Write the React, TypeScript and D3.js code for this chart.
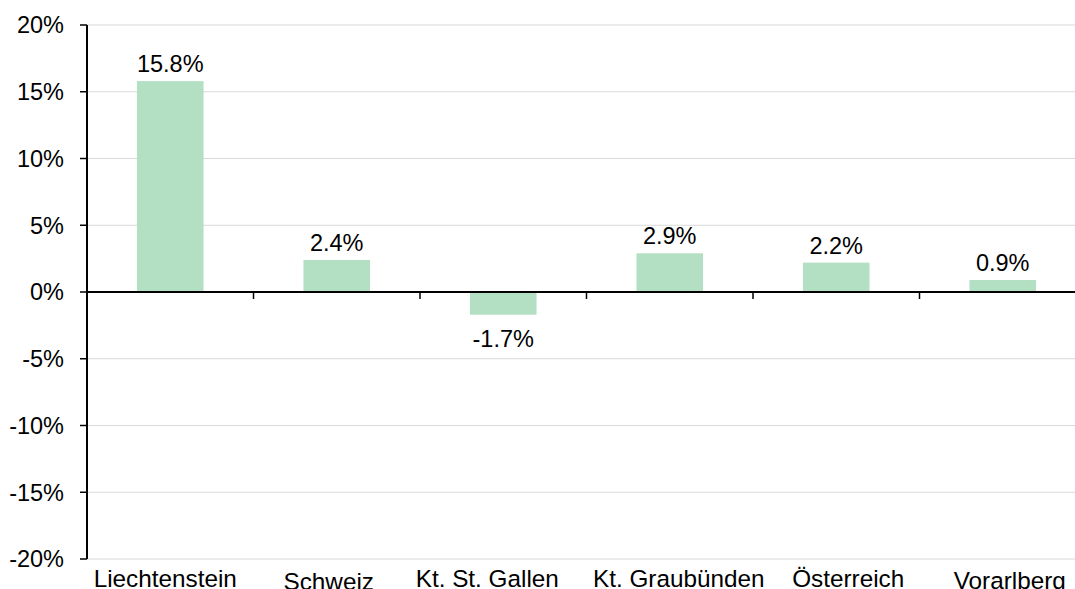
import React from "react";
import * as d3 from "d3";

const categories = ["Liechtenstein", "Schweiz", "Kt. St. Gallen", "Kt. Graubünden", "Österreich", "Vorarlberg"];
const values = [15.8, 2.4, -1.7, 2.9, 2.2, 0.9];
const yTicks = [-20, -15, -10, -5, 0, 5, 10, 15, 20];

// layout tweaks for category label placement (Excel-like offsets)
const labelDx = [-5, -8, -16, 9, 12, 7];
const labelDy = [0, 3, 0, 0, 0, 2];

const W = 1075;
const H = 589;
const FONT = "'Liberation Sans', Arial, Helvetica, sans-serif";

export default function App() {
  const x = d3.scaleBand<string>().domain(categories).range([87, 1086]).paddingInner(0.6).paddingOuter(0.3);
  const step = x.step();
  const y = d3.scaleLinear().domain([-20, 20]).range([559, 25]);
  const y0 = y(0);
  const fmt = (v: number) => `${v.toFixed(1)}%`;

  return (
    <svg width={W} height={H} style={{ position: "absolute", left: 0, top: 0 }} fontFamily={FONT}>
      <rect width={W} height={H} fill="#fff" />
      {yTicks.map((t) => (
        <line key={"g" + t} x1={87} x2={W} y1={y(t)} y2={y(t)} stroke="#d9d9d9" strokeWidth={1} />
      ))}
      {categories.map((c, i) => {
        const v = values[i];
        const top = y(Math.max(0, v));
        const bot = y(Math.min(0, v));
        return (
          <rect key={c} x={x(c)} y={top} width={x.bandwidth()} height={bot - top} fill="#b3dfc3" />
        );
      })}
      {/* y axis */}
      <line x1={87} x2={87} y1={y(20)} y2={y(-20)} stroke="#000" strokeWidth={2} />
      {yTicks.map((t) => (
        <g key={"t" + t}>
          <line x1={80} x2={87} y1={y(t)} y2={y(t)} stroke="#000" strokeWidth={1.5} />
          <text x={64} y={y(t) + 8.4} textAnchor="end" fontSize={23.5} fill="#000">
            {`${t}%`}
          </text>
        </g>
      ))}
      {/* zero axis */}
      <line x1={86} x2={W} y1={y0} y2={y0} stroke="#000" strokeWidth={2} />
      {d3.range(1, categories.length).map((i) => (
        <line key={"ct" + i} x1={87 + i * step} x2={87 + i * step} y1={y0} y2={y0 + 7} stroke="#000" strokeWidth={1.5} />
      ))}
      {/* value labels */}
      {categories.map((c, i) => {
        const v = values[i];
        const cx = (x(c) as number) + x.bandwidth() / 2;
        const ty = v >= 0 ? y(v) - 9 : y(v) + 32;
        return (
          <text key={"v" + c} x={cx} y={ty} textAnchor="middle" fontSize={23.5} fill="#000">
            {fmt(v)}
          </text>
        );
      })}
      {/* category labels */}
      {categories.map((c, i) => {
        const cx = (x(c) as number) + x.bandwidth() / 2 + labelDx[i];
        return (
          <text key={"c" + c} x={cx} y={587 + labelDy[i]} textAnchor="middle" fontSize={24.3} fill="#000">
            {c}
          </text>
        );
      })}
    </svg>
  );
}
